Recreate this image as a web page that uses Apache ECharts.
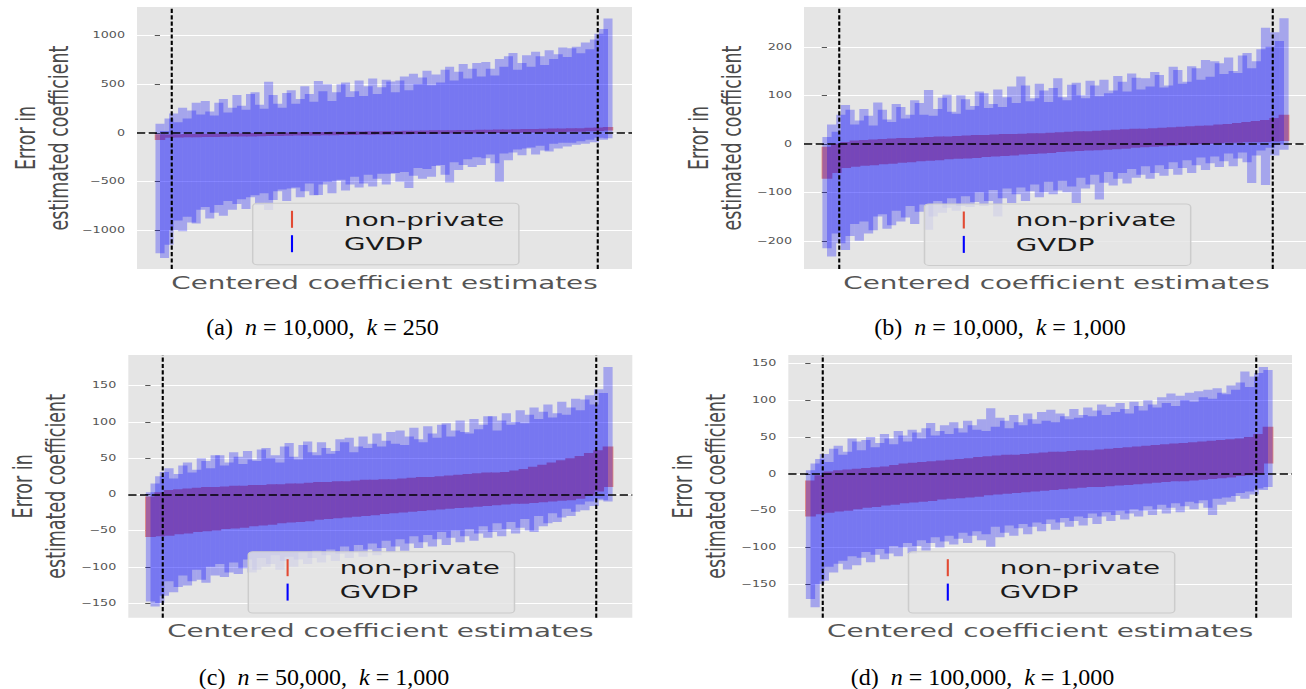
<!DOCTYPE html>
<html>
<head>
<meta charset="utf-8">
<script src="https://cdn.jsdelivr.net/npm/echarts@6.0.0/dist/echarts.min.js"></script>
<style>
html,body{margin:0;padding:0;background:#fff;overflow:hidden;width:1306px;height:689px;}
#main{position:absolute;left:0;top:0;width:870.667px;height:689px;transform:scaleX(1.5);transform-origin:0 0;}
#cap{position:absolute;left:0;top:0;width:1306px;height:689px;pointer-events:none;}
</style>
</head>
<body>
<div id="main"></div>
<div id="cap"></div>
<script>
// ---------------- data ----------------
const xAxisTitle = 'Centered coefficient estimates';
const yAxisTitle = 'Error in\nestimated coefficient';
const seriesNames = ['non-private', 'GVDP'];
const cutoffs = [2.5, 97.5];          // percent rank of the dashed vertical lines
const zeroLine = 0;
const captionTags = ['(a)', '(b)', '(c)', '(d)'];
const captionN = ['10,000', '10,000', '50,000', '100,000'];
const captionK = ['250', '1,000', '1,000', '1,000'];

const yTicksA = [-1000, -500, 0, 500, 1000];
const yTicksB = [-200, -100, 0, 100, 200];
const yTicksC = [-150, -100, -50, 0, 50, 100, 150];
const yTicksD = [-150, -100, -50, 0, 50, 100, 150];
const yRangeA = [-1398, 1295];
const yRangeB = [-258, 282];
const yRangeC = [-170.3, 192.4];
const yRangeD = [-195.3, 161.3];

// panel (a)
const gvdpHighA = [
95, 20, 150, 200, 110, 260, 150, 230, 310, 190,
330, 220, 180, 310, 350, 210, 260, 390, 280, 240,
400, 420, 290, 250, 527, 390, 300, 260, 410, 440,
300, 350, 480, 400, 320, 534, 430, 500, 330, 420,
500, 520, 370, 430, 540, 380, 480, 560, 400, 470,
548, 530, 420, 540, 580, 440, 610, 500, 570, 640,
490, 600, 520, 650, 680, 540, 630, 710, 560, 660,
720, 580, 730, 660, 590, 760, 680, 790, 822, 650,
720, 800, 680, 835, 790, 700, 850, 760, 810, 880,
780, 870, 887, 820, 930, 860, 960, 1020, 1070, 1178];
const gvdpLowA = [
-1235, -1284, -1150, -1000, -900, -1010, -860, -920, -930, -790,
-760, -880, -820, -740, -850, -700, -790, -730, -680, -780,
-660, -640, -740, -620, -791, -690, -600, -580, -700, -570,
-560, -660, -600, -520, -640, -637, -530, -500, -620, -490,
-480, -590, -530, -450, -560, -520, -430, -550, -470, -420,
-530, -420, -410, -500, -400, -565, -440, -360, -470, -370,
-450, -340, -330, -430, -510, -300, -380, -330, -270, -350,
-250, -330, -260, -220, -310, -500, -210, -280, -200, -170,
-230, -160, -150, -220, -130, -180, -190, -110, -160, -100,
-140, -100, -120, -85, -110, -70, -95, -50, -70, -55];
const npLowA = [
-72, -50, -47, -45, -44, -41, -40, -38, -37, -35,
-35, -33, -31, -31, -29, -27, -27, -25, -23, -23,
-21, -20, -19, -17, -16, -15, -14, -12, -11, -10,
-9, -8, -6, -5, -4, -2, -1, 0, 2, 3,
5, 6, 8, 9, 11, 13, 14, 17, 20, 25];
const npHighA = [
-14, -15, -12, -11, -9, -7, -6, -5, -3, -2,
0, 2, 3, 5, 6, 7, 9, 10, 11, 13,
14, 15, 16, 18, 19, 20, 21, 23, 24, 25,
27, 28, 29, 30, 32, 33, 34, 36, 37, 39,
40, 42, 43, 45, 46, 48, 50, 53, 56, 62];

// panel (b)
const gvdpHighB = [
14, 40, 25, 60, 80, 70, 40, 48, 72, 58,
38, 85, 70, 50, 45, 82, 76, 52, 60, 90,
84, 60, 111, 58, 72, 95, 101, 66, 62, 100,
92, 70, 78, 108, 104, 74, 82, 112, 76, 96,
118, 84, 139, 120, 88, 94, 124, 110, 86, 115,
135, 96, 90, 122, 126, 100, 94, 130, 120, 98,
132, 104, 110, 140, 128, 108, 145, 136, 112, 135,
118, 148, 142, 116, 120, 159, 152, 124, 128, 160,
156, 132, 173, 138, 170, 166, 144, 178, 150, 146,
182, 187, 156, 170, 195, 239, 200, 230, 212, 259];
const gvdpLowB = [
-215, -232, -185, -205, -219, -190, -165, -200, -160, -185,
-178, -150, -145, -175, -168, -138, -160, -152, -128, -165,
-140, -125, -177, -150, -118, -142, -132, -112, -138, -128,
-108, -130, -120, -100, -128, -118, -95, -150, -112, -92,
-122, -104, -90, -118, -98, -84, -110, -100, -78, -104,
-96, -76, -100, -88, -122, -70, -92, -84, -64, -115,
-80, -58, -86, -72, -60, -82, -52, -70, -64, -46,
-72, -60, -44, -66, -52, -38, -64, -50, -34, -60,
-44, -28, -54, -40, -26, -48, -36, -20, -46, -30,
-18, -38, -81, -24, -14, -85, -8, -24, -2, -12];
const npLowB = [
-72, -60, -50, -47, -45, -44, -42, -41, -39, -38,
-36, -35, -34, -32, -31, -30, -29, -27, -26, -25,
-24, -22, -21, -20, -19, -17, -16, -15, -14, -13,
-12, -11, -10, -8, -7, -6, -5, -4, -3, -2,
-1, 0, 1, 2, 2, 3, 3, 4, 5, 6];
const npHighB = [
-6, 0, 4, 7, 8, 9, 10, 11, 12, 12,
13, 14, 15, 15, 16, 17, 18, 18, 19, 20,
20, 21, 22, 22, 23, 24, 25, 26, 26, 27,
28, 29, 30, 31, 31, 32, 33, 34, 35, 36,
37, 38, 40, 41, 43, 45, 47, 49, 53, 60];

// panel (c)
const gvdpHighC = [
3, 15, 25, 31, 36, 22, 28, 40, 44, 30,
34, 50, 46, 36, 54, 54, 40, 44, 58, 52,
42, 60, 48, 46, 62, 64, 50, 54, 44, 66,
71, 52, 48, 68, 73, 58, 54, 72, 64, 56,
60, 76, 72, 78, 58, 66, 80, 64, 70, 84,
66, 74, 86, 70, 88, 68, 80, 92, 76, 72,
94, 84, 78, 96, 98, 80, 88, 102, 86, 84,
104, 90, 96, 108, 108, 88, 102, 112, 96, 100,
116, 98, 110, 120, 104, 114, 124, 106, 112, 128,
110, 120, 132, 116, 131, 137, 124, 145, 140, 176];
const gvdpLowC = [
-148, -155, -150, -140, -120, -135, -128, -112, -126, -120,
-104, -118, -122, -100, -112, -96, -114, -108, -94, -110,
-102, -90, -108, -104, -88, -100, -96, -84, -104, -92,
-86, -100, -90, -80, -96, -88, -78, -94, -84, -76,
-92, -82, -72, -88, -80, -70, -86, -76, -68, -84,
-74, -64, -80, -72, -62, -78, -68, -58, -74, -66,
-56, -72, -62, -52, -70, -60, -50, -66, -58, -48,
-64, -54, -44, -60, -52, -40, -58, -48, -38, -54,
-46, -34, -50, -52, -30, -44, -40, -26, -38, -32,
-20, -30, -24, -14, -22, -10, -16, -6, -8, -10];
const npLowC = [
-59, -58, -57, -55, -54, -52, -51, -50, -48, -47,
-46, -44, -43, -42, -40, -39, -38, -37, -35, -34,
-33, -32, -31, -30, -29, -27, -26, -25, -24, -23,
-22, -21, -20, -19, -18, -17, -16, -15, -14, -13,
-13, -12, -11, -10, -9, -8, -6, -2, 4, 10];
const npHighC = [
-3, 3, 6, 7, 8, 9, 10, 10, 11, 12,
12, 13, 13, 14, 14, 15, 15, 16, 17, 17,
18, 18, 19, 20, 20, 21, 21, 22, 23, 24,
24, 25, 26, 27, 28, 29, 30, 30, 31, 33,
35, 38, 41, 44, 47, 50, 53, 57, 61, 66];

// panel (d)
const gvdpHighD = [
5, 14, 20, 27, 16, 34, 38, 26, 30, 48,
44, 32, 46, 50, 36, 42, 54, 48, 40, 58,
52, 44, 60, 56, 48, 62, 69, 52, 58, 66,
54, 70, 62, 56, 72, 66, 60, 74, 58, 89,
64, 76, 72, 62, 80, 70, 66, 82, 74, 68,
84, 72, 87, 70, 82, 78, 74, 88, 76, 80,
90, 78, 86, 94, 80, 91, 84, 96, 88, 82,
98, 92, 86, 100, 94, 90, 104, 96, 109, 92,
106, 100, 110, 98, 112, 104, 114, 102, 116, 110,
108, 120, 114, 124, 139, 118, 132, 137, 145, 141];
const gvdpLowD = [
-170, -181, -150, -145, -126, -134, -122, -118, -130, -112,
-124, -114, -106, -120, -110, -102, -116, -108, -98, -112,
-100, -94, -108, -98, -90, -104, -94, -86, -100, -92,
-84, -96, -88, -80, -94, -84, -78, -90, -82, -99,
-72, -86, -80, -70, -84, -74, -68, -82, -72, -66,
-78, -68, -62, -76, -66, -60, -72, -64, -58, -70,
-60, -54, -68, -58, -52, -64, -56, -50, -62, -54,
-48, -58, -50, -44, -56, -48, -42, -54, -46, -40,
-52, -44, -38, -48, -40, -36, -46, -56, -34, -42,
-32, -38, -30, -26, -34, -24, -28, -20, -22, -18];
const npLowD = [
-58, -55, -53, -51, -50, -48, -46, -45, -43, -42,
-40, -39, -38, -37, -35, -34, -33, -32, -31, -29,
-28, -27, -26, -25, -24, -23, -22, -21, -20, -19,
-18, -18, -17, -16, -15, -14, -13, -12, -11, -10,
-10, -9, -8, -7, -6, -5, -3, -2, 0, 14];
const npHighD = [
-9, -2, 3, 5, 6, 7, 8, 9, 10, 12,
14, 15, 16, 17, 18, 19, 20, 21, 23, 24,
25, 26, 26, 27, 28, 29, 30, 30, 31, 32,
32, 33, 34, 35, 36, 37, 38, 39, 40, 41,
42, 43, 44, 45, 46, 47, 48, 50, 54, 64];

// ---------------- layout (screen px) ----------------
const SX = 1.5; // the whole figure is stretched horizontally
const layout = [
  {left:137,   right:632,  top:7,   bottom:269,   barL:160,   barR:608,  legX:252.7, legY:203.3, nameGap:41.6, capX:322.5, capY:327},
  {left:804,   right:1309, top:7,   bottom:269,   barL:827,   barR:1284, legX:924.5, legY:204,   nameGap:37,   capX:1000,  capY:327},
  {left:128.3, right:632.3,top:355, bottom:617.7, barL:150.5, barR:608,  legX:248.3, legY:551.7, nameGap:37.8, capX:324,   capY:676.5},
  {left:788.3, right:1292, top:355, bottom:617.7, barL:810.5, barR:1268, legX:908.5, legY:551.7, nameGap:37.5, capX:982.5, capY:676.5}
];

const panels = [
  {gvdpLow:gvdpLowA, gvdpHigh:gvdpHighA, npLow:npLowA, npHigh:npHighA, ticks:yTicksA, range:yRangeA},
  {gvdpLow:gvdpLowB, gvdpHigh:gvdpHighB, npLow:npLowB, npHigh:npHighB, ticks:yTicksB, range:yRangeB},
  {gvdpLow:gvdpLowC, gvdpHigh:gvdpHighC, npLow:npLowC, npHigh:npHighC, ticks:yTicksC, range:yRangeC},
  {gvdpLow:gvdpLowD, gvdpHigh:gvdpHighD, npLow:npLowD, npHigh:npHighD, ticks:yTicksD, range:yRangeD}
];

const NP_COLOR = '#E24A33';
const NP_FILL = '#E3887A';
const GV_COLOR = '#0000FF';
const GV_FILL = 'rgba(0,0,255,0.28)';
const FONT = 'DejaVu Sans';

function makeBar(step, factor, fill) {
  return function (params, api) {
    const x = api.value(0);
    const top = api.coord([x, api.value(2)]);
    const bot = api.coord([x, api.value(1)]);
    const w = api.size([step, 0])[0] * factor;
    return {
      type: 'rect',
      shape: {x: top[0] - w / 2, y: top[1], width: w, height: bot[1] - top[1]},
      style: {fill: fill},
      silent: true
    };
  };
}

const grids = [], xAxes = [], yAxes = [], legends = [], series = [];
panels.forEach(function (P, p) {
  const L = layout[p];
  grids.push({
    left: L.left / SX, top: L.top, width: (L.right - L.left) / SX, height: L.bottom - L.top,
    show: true, backgroundColor: '#E5E5E5', borderWidth: 0, containLabel: false, outerBoundsMode: 'none'
  });
  const u = (L.barR - L.barL) / 100;
  xAxes.push({
    gridIndex: p, type: 'value', min: -(L.barL - L.left) / u, max: 100 + (L.right - L.barR) / u,
    axisLine: {show: false}, axisTick: {show: false}, axisLabel: {show: false}, splitLine: {show: false},
    name: xAxisTitle, nameLocation: 'middle', nameGap: 4, nameMoveOverlap: false,
    nameTextStyle: {fontFamily: FONT, fontSize: 18.5, lineHeight: 18.5, color: '#555555'}
  });
  yAxes.push({
    gridIndex: p, type: 'value', min: P.range[0], max: P.range[1],
    axisLine: {show: false},
    axisTick: {show: true, inside: false, length: 3.5, customValues: P.ticks, lineStyle: {color: '#555555', width: 1}},
    axisLabel: {show: true, customValues: P.ticks, margin: 8, color: '#555555', fontFamily: FONT, fontSize: 8.5,
      formatter: function (v) { return String(v).replace('-', '\u2212'); }},
    splitLine: {show: true, lineStyle: {color: '#FFFFFF', width: 1}},
    name: yAxisTitle, nameLocation: 'middle', nameRotate: 90, nameGap: L.nameGap, nameMoveOverlap: false,
    nameTextStyle: {fontFamily: FONT, fontSize: 17.5, lineHeight: 22, color: '#4a4a4a'}
  });
  legends.push({
    orient: 'vertical', left: L.legX / SX, top: L.legY,
    data: [
      {name: seriesNames[0], itemStyle: {color: NP_COLOR, opacity: 1}},
      {name: seriesNames[1], itemStyle: {color: GV_COLOR, opacity: 1}}
    ],
    icon: 'path://M0,0L14,0L14,170L0,170Z', itemWidth: 1.4, itemHeight: 17, itemGap: 5.4, symbolKeepAspect: false,
    padding: [6.5, 9.7, 11.5, 25.5],
    backgroundColor: 'rgba(229,229,229,0.8)', borderColor: '#CCCCCC', borderWidth: 1, borderRadius: 3,
    textStyle: {fontFamily: FONT, fontSize: 18.5, lineHeight: 17, color: '#1a1a1a', padding: [0, 0, 0, 29]},
    selectedMode: false, z: 10
  });
  const nb = P.gvdpLow.length, nr = P.npLow.length;
  const stepB = 100 / (nb - 1), stepR = 100 / (nr - 1);
  series.push({
    type: 'custom', name: seriesNames[0], xAxisIndex: p, yAxisIndex: p,
    data: P.npLow.map(function (lo, i) { return [i * stepR, lo, P.npHigh[i]]; }),
    encode: {x: 0, y: [1, 2]}, renderItem: makeBar(stepR, 1.15, NP_FILL),
    itemStyle: {color: NP_COLOR}, clip: true, silent: true, z: 2
  });
  series.push({
    type: 'custom', name: seriesNames[1], xAxisIndex: p, yAxisIndex: p,
    data: P.gvdpLow.map(function (lo, i) { return [i * stepB, lo, P.gvdpHigh[i]]; }),
    encode: {x: 0, y: [1, 2]}, renderItem: makeBar(stepB, 2.0, GV_FILL),
    itemStyle: {color: GV_COLOR}, clip: true, silent: true, z: 3,
    markLine: {
      silent: true, symbol: ['none', 'none'], animation: false, label: {show: false},
      data: [
        {yAxis: zeroLine, lineStyle: {color: '#000000', width: 1.6, type: [5.5, 2.3]}},
        {xAxis: cutoffs[0], lineStyle: {color: '#000000', width: 1.4, type: [4.2, 2.2]}},
        {xAxis: cutoffs[1], lineStyle: {color: '#000000', width: 1.4, type: [4.2, 2.2]}}
      ]
    }
  });
});

const chart = echarts.init(document.getElementById('main'), null, {renderer: 'svg'});
chart.setOption({
  animation: false,
  backgroundColor: '#FFFFFF',
  grid: grids, xAxis: xAxes, yAxis: yAxes, legend: legends, series: series
});

const cap = echarts.init(document.getElementById('cap'), null, {renderer: 'svg'});
cap.setOption({
  animation: false,
  graphic: layout.map(function (L, p) {
    return {
      type: 'text', x: L.capX, y: L.capY, silent: true,
      style: {
        text: captionTags[p] + '  {i|n} = ' + captionN[p] + ',  {i|k} = ' + captionK[p],
        rich: {i: {fontStyle: 'italic', fontFamily: 'Liberation Serif', fontSize: 24, fill: '#000'}},
        fontFamily: 'Liberation Serif', fontSize: 24, fill: '#000',
        align: 'center', verticalAlign: 'middle'
      }
    };
  })
});
</script>
</body>
</html>
